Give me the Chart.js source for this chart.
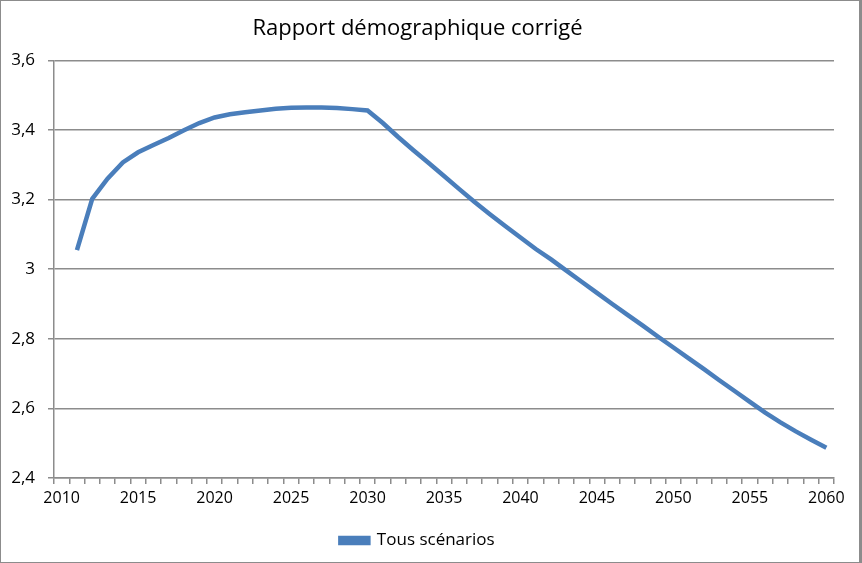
<!DOCTYPE html>
<html>
<head>
<meta charset="utf-8">
<script src="https://cdn.jsdelivr.net/npm/chart.js@4"></script>
<style>
  html, body { margin: 0; padding: 0; background: #fff; }
  #wrap { width: 862px; height: 563px; box-sizing: border-box; border: 1px solid #8c8c8c; border-right: 3px solid #8c8c8c; position: relative; }
  canvas { display: block; }
</style>
</head>
<body>
<div id="wrap"><canvas id="c" width="858" height="561"></canvas></div>
<script>
const title = "Rapport démographique corrigé";
const seriesName = "Tous scénarios";
const years = [];
for (let y = 2010; y <= 2060; y++) years.push(String(y));
const values = [
  null,  3.055, 3.202, 3.260, 3.307, 3.336, 3.357, 3.377, 3.399, 3.420,
  3.436, 3.445, 3.451, 3.456, 3.461, 3.464, 3.465, 3.465, 3.463, 3.460,
  3.456, 3.420, 3.380, 3.342, 3.305, 3.268, 3.230, 3.193, 3.158, 3.124,
  3.091, 3.058, 3.028, 2.996, 2.964, 2.932, 2.900, 2.869, 2.838, 2.806,
  2.775, 2.744, 2.713, 2.681, 2.650, 2.619, 2.588, 2.560, 2.534, 2.510,
  2.487
];
const yTicks = [2.4, 2.6, 2.8, 3.0, 3.2, 3.4, 3.6];

const FONT = "'Open Sans'";
const gridColor = "#8c8c8c";
const lineColor = "#4a7ebb";

new Chart(document.getElementById("c"), {
  type: "line",
  data: {
    labels: years,
    datasets: [{
      label: seriesName,
      data: values,
      borderColor: lineColor,
      backgroundColor: lineColor,
      borderWidth: 4.5,
      pointRadius: 0,
      tension: 0,
      spanGaps: false
    }]
  },
  options: {
    responsive: false,
    animation: false,
    layout: { padding: { left: 0, right: 25, top: 0, bottom: 3 } },
    plugins: {
      title: {
        display: true,
        text: title,
        color: "#000",
        font: { family: FONT, size: 22, weight: "normal" },
        padding: { top: 15, bottom: 18 }
      },
      legend: {
        display: true,
        position: "bottom",
        labels: {
          color: "#000",
          font: { family: FONT, size: 17 },
          boxWidth: 28,
          boxHeight: 5,
          padding: 4
        }
      },
      tooltip: { enabled: false }
    },
    scales: {
      x: {
        type: "category",
        offset: true,
        grid: { display: true, drawOnChartArea: false, drawTicks: true, tickLength: 6, offset: true, color: gridColor, lineWidth: 1.5 },
        border: { display: true, color: gridColor, width: 1.5 },
        ticks: {
          autoSkip: false,
          maxRotation: 0,
          minRotation: 0,
          color: "#000",
          font: { family: FONT, size: 16 },
          padding: 5,
          callback: function(v, i) { const y = years[i]; return (Number(y) % 5 === 0) ? y : ""; }
        },
        afterFit: function(s) { s.height = 50; }
      },
      y: {
        type: "linear",
        min: 2.4,
        max: 3.6,
        afterBuildTicks: function(s) { s.ticks = yTicks.map(v => ({ value: v })); },
        grid: { color: gridColor, lineWidth: 1.5, tickLength: 6 },
        border: { display: true, color: gridColor, width: 1.5 },
        ticks: {
          color: "#000",
          font: { family: FONT, size: 17 },
          padding: 13,
          callback: function(v) { return String(Math.round(v * 10) / 10).replace(".", ","); }
        },
        afterFit: function(s) { s.width = 53; }
      }
    }
  }
});
</script>
</body>
</html>
